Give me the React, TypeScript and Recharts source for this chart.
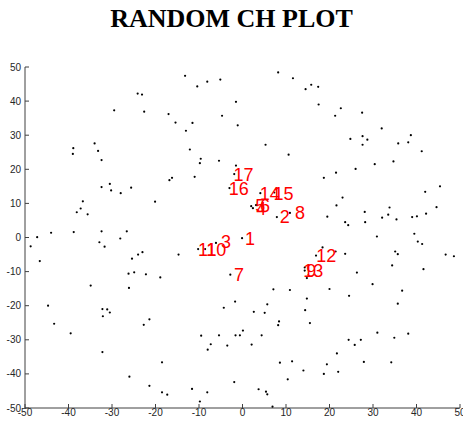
import * as React from 'react'
import { Scatter, ScatterChart, XAxis, YAxis } from 'recharts'

// black points of the random set
const dotsX = [
  -47.2, -44.0, -38.9, -39.0, -38.8, -38.1, -36.7, -37.2, -35.6, -34.0, -33.2, -32.4, -32.4, -32.4, -30.5, -30.2, -29.5, -28.0, -28.1, -26.6, -25.6,
  -24.1, -23.1, -22.6, -20.1, -17.0, -16.8, -16.2, -15.4, -13.2, -13.0, -12.1, -11.5, -11.0, -10.4, -9.8, -9.6, -8.1, -5.4, -5.1, -4.7, -3.0,
  8.2, 11.6, -1.5, 14.5, 15.8, 17.4, -1.1, 17.5, 21.3, 22.6, 27.5, 5.3, 10.6, 32.0, 24.8, 27.6, 27.6, 28.7, 35.8, 38.1, 38.7, 41.2,
  -1.5, -1.9, 21.5, 26.0, 30.4, 34.7, 18.7, 45.4, 42.0, 23.0, 21.6, 33.8, 44.6, 28.1, 42.2, 33.5, 19.5, 32.1, 35.4, 39.0, 40.1,
  23.6, 24.3, 28.2, 30.9, 39.5, -0.1, 4.1, 7.3, 2.0, 2.4, 3.1, 7.9, 10.9,
  -48.7, -46.6, -32.9, -31.7, -44.7, -43.3, -39.5, -34.9, -32.2, -32.1, -31.1, -30.5, -32.2, -26.2, -26.1, -25.4, -24.9, -24.0, -23.0, -22.2, -18.9,
  -22.7, -21.4, -26.0, -21.4, -18.5, -18.5, -17.3, -14.7, -11.6, -9.8, -8.1, -9.5, -8.0, -7.3, -5.4, -4.3, -3.5, -2.8, -10.2, -8.6, -6.1,
  40.3, 41.3, 18.4, 21.4, 23.6, 16.9, 35.1, 35.7, 46.7, 48.6, 34.4, 41.6, 14.3, 14.3, 26.3, 14.8, 29.9, 7.1, 10.9, 20.0, 24.5, 36.7,
  14.8, -1.7, 5.7, 35.7, 2.6, 5.1, 14.4, 8.4, 8.2, 15.5, 0.1, -1.6, -0.6, 4.4, 2.1, 31.0, 34.9, 38.1, 24.4, 25.8, 27.2, 21.7,
  8.6, 11.4, 19.4, 27.9, 34.2, 14.0, 18.7, 22.0, 10.4, -1.9, 3.7, 5.4, 5.7, 6.9,
]
const dotsY = [
  0.1, 1.4, 26.2, 24.5, 1.6, 7.4, 10.6, 8.5, 6.8, 27.6, 25.4, 22.7, 14.8, 1.8, 15.7, 13.8, 37.3, 13.0, -0.3, 1.8, 14.6,
  42.2, 41.9, 36.9, 10.5, 36.2, 16.8, 17.5, 33.7, 47.4, 31.3, 25.8, 33.6, 17.8, 44.3, 21.8, 23.1, 45.7, 22.5, 46.3, 35.7, 14.5,
  48.4, 46.7, 39.8, 43.5, 44.8, 44.2, 32.9, 39.0, 35.7, 37.9, 36.6, 27.2, 24.3, 32.0, 28.9, 29.7, 27.2, 28.7, 27.6, 27.9, 30.0, 25.3,
  21.1, 18.6, 19.0, 20.1, 21.5, 22.3, 17.5, 15.0, 13.4, 11.7, 9.4, 8.8, 8.9, 7.5, 7.0, 6.7, 6.1, 5.8, 5.3, 6.0, 6.2,
  4.5, 3.6, 4.5, 0.3, 1.1, -0.2, 13.0, 13.2, 9.2, 8.6, 9.5, 6.0, 7.2,
  -2.6, -6.9, -1.4, -2.7, -20.0, -25.3, -28.1, -14.1, -21.0, -23.1, -21.1, -22.0, -33.6, -10.6, -14.8, -6.2, -10.2, -5.0, -4.3, -10.8, -11.7,
  -25.6, -24.0, -40.8, -43.5, -36.6, -45.4, -46.1, -5.0, -44.4, -48.1, -45.4, -28.8, -32.9, -31.3, -28.7, -20.6, -31.7, -10.9, -3.4, -3.4, -1.6,
  -1.2, -1.9, -2.9, -4.1, -4.8, -5.3, -4.1, -4.9, -5.0, -5.5, -8.2, -9.3, -8.8, -9.7, -10.3, -11.9, -13.7, -15.2, -15.4, -15.1, -17.1, -15.6,
  -17.9, -18.8, -19.6, -19.4, -21.8, -22.1, -21.3, -24.6, -25.7, -25.1, -27.3, -28.7, -28.7, -28.7, -31.4, -27.9, -29.4, -28.2, -30.0, -31.5, -30.0, -34.0,
  -36.7, -36.3, -37.2, -36.5, -36.6, -39.0, -40.0, -39.4, -41.6, -42.4, -44.5, -45.2, -46.0, -49.6,
]

// red numbered points
const labelNames = ['1', '2', '3', '4', '5', '6', '7', '8', '9', '10', '11', '12', '13', '14', '15', '16', '17']
const labelX = [0.25, 8.2, -5.3, 2.8, 2.6, 3.7, -2.3, 11.7, 14.3, -8.7, -10.6, 16.6, 13.6, 3.6, 6.8, -3.5, -2.4]
const labelY = [-0.35, 6.2, -1.3, 8.5, 9.4, 9.4, -10.9, 7.3, -9.7, -3.6, -3.6, -5.2, -9.7, 13.0, 13.0, 14.4, 18.5]

const axisTicks = [-50, -40, -30, -20, -10, 0, 10, 20, 30, 40, 50]

const dots = dotsX.map((x, i) => ({ x, y: dotsY[i] }))
const labelled = labelNames.map((name, i) => ({ x: labelX[i], y: labelY[i], name }))

const axisColor = '#404040'
const tickFont = { fontSize: 10, fill: '#262626', fontFamily: "'Liberation Sans', Arial, sans-serif" }

const Dot = (props: any) => <circle cx={props.cx} cy={props.cy} r={1.1} fill="#000" />

const RedLabel = (props: any) => (
  <text
    x={props.cx + 1.5}
    y={props.cy + 6.4}
    fill="#ff0000"
    fontSize={18}
    fontFamily="'Liberation Sans', Arial, sans-serif"
  >
    {props.payload.name}
  </text>
)

export default function App() {
  return (
    <div style={{ position: 'absolute', left: 0, top: 0, width: 463, height: 423, background: '#fff' }}>
      <div
        style={{
          position: 'absolute', left: 0, top: 6, width: 463, textAlign: 'center',
          fontFamily: "'Liberation Serif', 'Times New Roman', serif", fontWeight: 'bold', fontSize: 26, lineHeight: '26px',
        }}
      >
        RANDOM CH PLOT
      </div>
      <ScatterChart width={463} height={423} margin={{ top: 67, right: 3, bottom: 0, left: 0 }}>
        <XAxis
          xAxisId="b" type="number" dataKey="x" domain={[-50, 50]} ticks={axisTicks} interval={0}
          height={15} tickSize={-4} tickMargin={5} stroke={axisColor} tick={tickFont} allowDataOverflow
        />
        <XAxis
          xAxisId="t" orientation="top" type="number" dataKey="x" domain={[-50, 50]} ticks={axisTicks} interval={0}
          height={0} tickSize={-4} stroke={axisColor} tick={false} allowDataOverflow
        />
        <YAxis
          yAxisId="l" type="number" dataKey="y" domain={[-50, 50]} ticks={axisTicks} interval={0}
          width={25} tickSize={-4} tickMargin={8} stroke={axisColor} tick={tickFont} allowDataOverflow
        />
        <YAxis
          yAxisId="r" orientation="right" type="number" dataKey="y" domain={[-50, 50]} ticks={axisTicks} interval={0}
          width={0} tickSize={-4} stroke={axisColor} tick={false} allowDataOverflow
        />
        <Scatter xAxisId="b" yAxisId="l" data={dots} shape={Dot} isAnimationActive={false} />
        <Scatter xAxisId="t" yAxisId="r" data={labelled} shape={RedLabel} isAnimationActive={false} />
      </ScatterChart>
    </div>
  )
}
